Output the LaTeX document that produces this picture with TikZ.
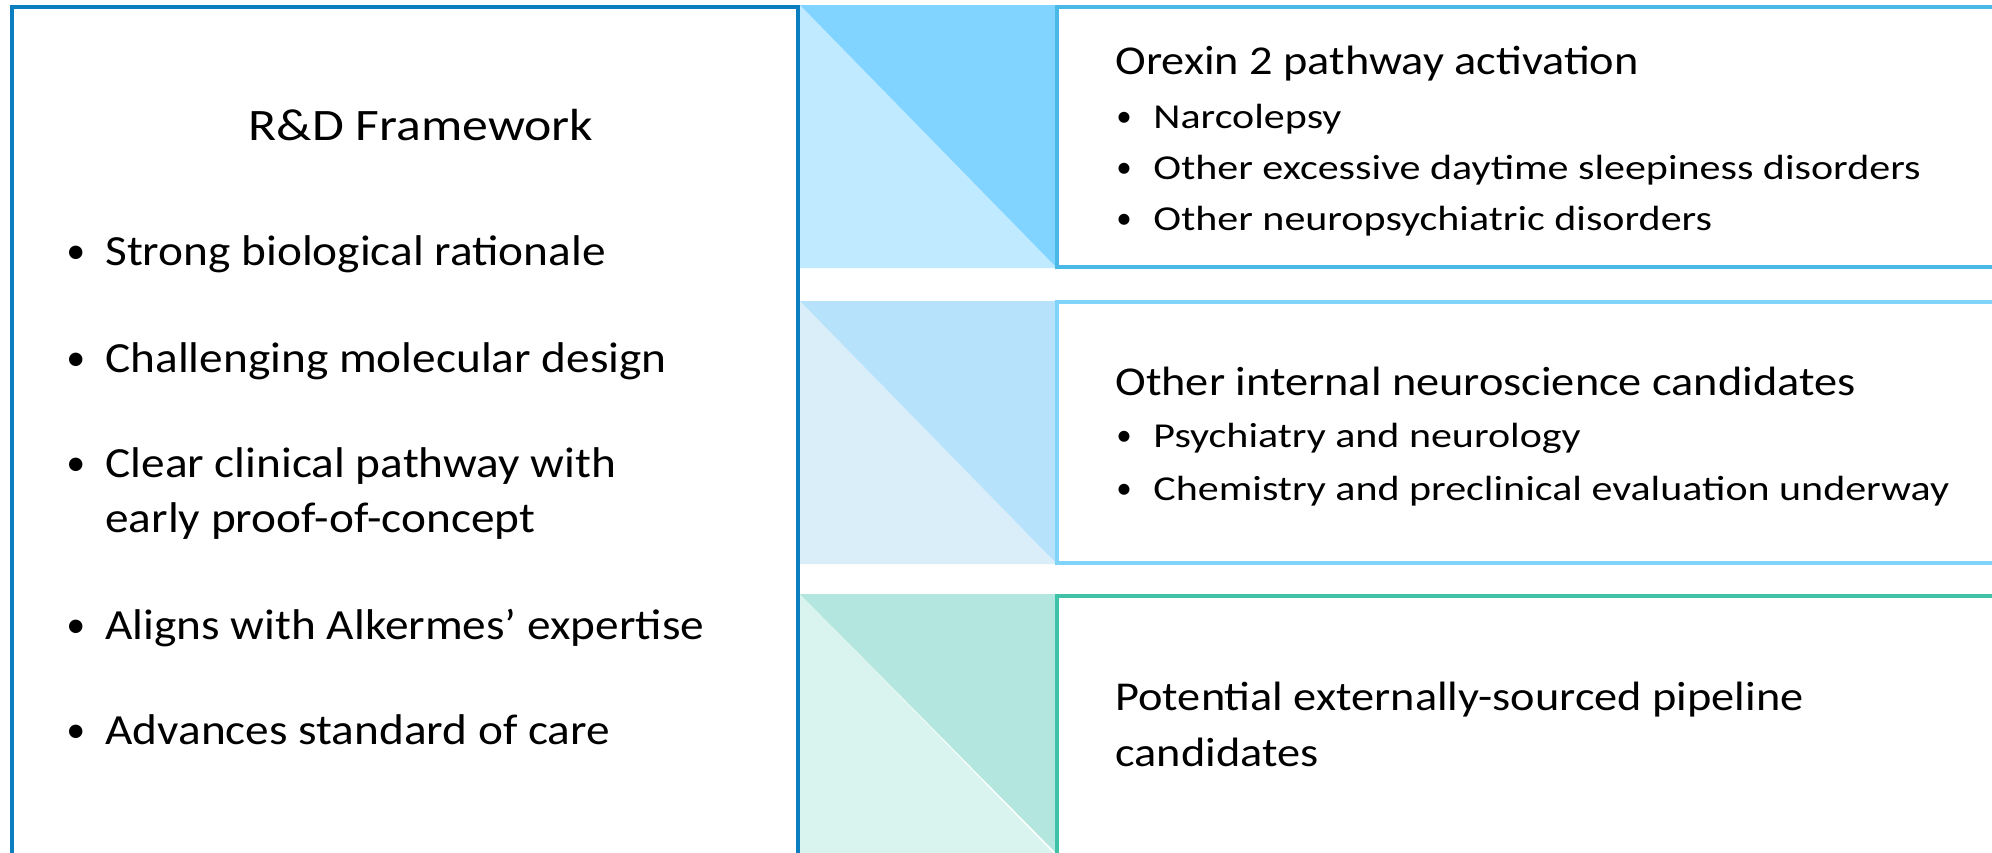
\documentclass[tikz,border=0pt]{standalone}
\usepackage{fontspec}
\setmainfont{Carlito}
\definecolor{leftblue}{HTML}{0A7EBF}
\definecolor{boxA}{HTML}{4BB9E7}
\definecolor{triAdark}{HTML}{80D4FF}
\definecolor{triAlight}{HTML}{C0EAFF}
\definecolor{boxB}{HTML}{80D4FA}
\definecolor{triBdark}{HTML}{B7E2FC}
\definecolor{triBlight}{HTML}{D9EEF9}
\definecolor{boxC}{HTML}{40C2A8}
\definecolor{triCdark}{HTML}{B3E6DF}
\definecolor{triClight}{HTML}{D9F3EE}
\tikzset{
  frame/.style={line width=2pt},
  lbul/.style={anchor=base west, inner sep=0pt, xscale=1.10, font=\fontsize{21.5}{25}\selectfont},
  ldot/.style={anchor=base west, inner sep=0pt, font=\fontsize{19}{25}\selectfont},
  title/.style={anchor=base, inner sep=0pt, xscale=1.15, font=\fontsize{22.5}{26}\selectfont},
  rhead/.style={anchor=base west, inner sep=0pt, xscale=1.13, font=\fontsize{20.5}{24}\selectfont},
  rbul/.style={anchor=base west, inner sep=0pt, xscale=1.2, font=\fontsize{17.5}{21}\selectfont},
  rdot/.style={anchor=base west, inner sep=0pt, font=\fontsize{15.5}{21}\selectfont},
}
\begin{document}
\begin{tikzpicture}[x=0.5pt,y=-0.5pt]
\useasboundingbox (0,0) rectangle (1992,852);
\clip (0,0) rectangle (1992,852);
\fill[white] (0,0) rectangle (1992,852);
% triangles
\fill[triAlight] (800,5) -- (800,268) -- (1057,268) -- cycle;
\fill[triAdark] (800,5) -- (1057,5) -- (1057,268) -- cycle;
\fill[triBlight] (800,301) -- (800,564) -- (1057,564) -- cycle;
\fill[triBdark] (800,301) -- (1057,301) -- (1057,564) -- cycle;
\fill[triClight] (800,594) -- (800,860) -- (1060,860) -- cycle;
\fill[triCdark] (800,594) -- (1057,594) -- (1057,854) -- cycle;
% boxes
\draw[frame, leftblue] (12,7) rectangle (798,880);
\draw[frame, boxA] (1057,7) rectangle (2010,267);
\draw[frame, boxB] (1057,302) rectangle (2010,563);
\draw[frame, boxC] (1057,596) rectangle (2010,880);
% left text
\node[title] (t) at (421,140) {R\&D Framework};
\node[ldot] (b1) at (66,263) {\textbullet};
\node[lbul] (l1) at (105,265) {Strong biological rationale};
\node[ldot] (b2) at (66,370) {\textbullet};
\node[lbul] (l2) at (105,372) {Challenging molecular design};
\node[ldot] (b3) at (66,475) {\textbullet};
\node[lbul] (l3) at (105,477) {Clear clinical pathway with};
\node[lbul] (l3b) at (105,532) {early proof-of-concept};
\node[ldot] (b4) at (66,637) {\textbullet};
\node[lbul] (l4) at (105,639) {Aligns with Alkermes’ expertise};
\node[ldot] (b5) at (66,742) {\textbullet};
\node[lbul] (l5) at (105,744) {Advances standard of care};
% right box 1
\node[rhead] (h1) at (1115,74) {Orexin 2 pathway activation};
\node[rdot] (r1b) at (1116,126) {\textbullet};
\node[rbul] (r1) at (1153,128) {Narcolepsy};
\node[rdot] (r2b) at (1116,177) {\textbullet};
\node[rbul] (r2) at (1153,179) {Other excessive daytime sleepiness disorders};
\node[rdot] (r3b) at (1116,228) {\textbullet};
\node[rbul] (r3) at (1153,230) {Other neuropsychiatric disorders};
% right box 2
\node[rhead] (h2) at (1115,395) {Other internal neuroscience candidates};
\node[rdot] (s1b) at (1116,445) {\textbullet};
\node[rbul] (s1) at (1153,447) {Psychiatry and neurology};
\node[rdot] (s2b) at (1116,498) {\textbullet};
\node[rbul] (s2) at (1153,500) {Chemistry and preclinical evaluation underway};
% right box 3
\node[rhead] (h3) at (1115,710) {Potential externally-sourced pipeline};
\node[rhead] (h3b) at (1115,766) {candidates};
\end{tikzpicture}
\end{document}
